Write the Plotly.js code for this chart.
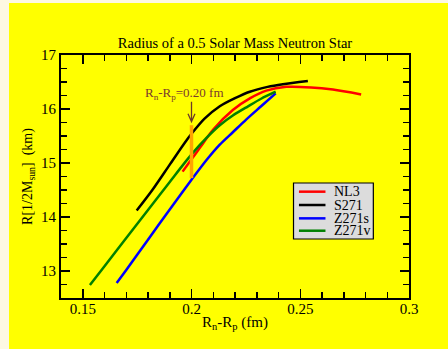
<!DOCTYPE html>
<html>
<head>
<meta charset="utf-8">
<script src="https://cdn.plot.ly/plotly-3.0.1.min.js"></script>
<style>
  html, body { margin: 0; padding: 0; background: #fdf8e2; width: 448px; height: 349px; overflow: hidden; }
  #chart { position: absolute; left: 9px; top: 3px; width: 439px; height: 346px; }
</style>
</head>
<body>
<div id="chart"></div>
<script>
// Series names and colours
const seriesNames = ['NL3', 'S271', 'Z271s', 'Z271v'];
const seriesColors = ['#ff0000', '#000000', '#0000ff', '#008000'];

// NL3
const nl3X = [0.1959, 0.200, 0.204, 0.210, 0.219, 0.227, 0.2344, 0.2436, 0.255, 0.265, 0.278];
const nl3Y = [14.84, 15.07, 15.29, 15.62, 15.98, 16.20, 16.34, 16.41, 16.40, 16.36, 16.27];
// S271
const s271X = [0.1748, 0.182, 0.190, 0.197, 0.200, 0.206, 0.213, 0.220, 0.2268, 0.235, 0.242, 0.2535];
const s271Y = [14.12, 14.50, 14.97, 15.38, 15.54, 15.82, 16.05, 16.20, 16.32, 16.41, 16.46, 16.52];
// Z271s
const z271sX = [0.1656, 0.170, 0.180, 0.190, 0.200, 0.207, 0.213, 0.219, 0.225, 0.232, 0.2387];
const z271sY = [12.78, 13.02, 13.58, 14.14, 14.69, 15.06, 15.34, 15.57, 15.80, 16.05, 16.29];
// Z271v
const z271vX = [0.1533, 0.160, 0.170, 0.180, 0.190, 0.200, 0.207, 0.213, 0.219, 0.226, 0.232, 0.2387];
const z271vY = [12.74, 13.09, 13.61, 14.13, 14.65, 15.16, 15.47, 15.70, 15.88, 16.05, 16.19, 16.32];

// Marker of Rn-Rp = 0.20 fm
const markX = 0.20;
const markYRange = [14.72, 15.70];
const markLabel = 'R<sub>n</sub>-R<sub>p</sub>=0.20 fm';

const xs = [nl3X, s271X, z271sX, z271vX];
const ys = [nl3Y, s271Y, z271sY, z271vY];

const serif = 'Liberation Serif, Times New Roman, serif';

const traces = seriesNames.map((n, i) => ({
  type: 'scatter', mode: 'lines', name: n,
  x: xs[i], y: ys[i],
  line: { color: seriesColors[i], width: 2.5, shape: 'spline', smoothing: 0.8 },
  showlegend: false, hoverinfo: 'skip'
}));

// custom legend (data coords of the box)
const legBox = { x0: 0.2469, x1: 0.2836, y0: 13.593, y1: 14.63 };
const legRows = [14.469, 14.222, 13.975, 13.746];
const shapes = [
  { type: 'line', xref: 'x', yref: 'y', x0: markX, x1: markX, y0: markYRange[0], y1: markYRange[1],
    line: { color: '#ffa500', width: 3.5 }, layer: 'above' },
  { type: 'path', xref: 'x', yref: 'y', xsizemode: 'pixel', ysizemode: 'pixel',
    xanchor: markX, yanchor: 15.765,
    path: 'M0,20 L0,0 M-3.5,8 L0,0 L3.5,8',
    line: { color: '#6b3a2a', width: 1.3 }, layer: 'above' },
  { type: 'rect', xref: 'x', yref: 'y', x0: legBox.x0, x1: legBox.x1, y0: legBox.y0, y1: legBox.y1,
    fillcolor: '#dcdcdc', line: { color: '#000000', width: 1.2 }, layer: 'above' }
];
const annotations = [
  { xref: 'x', yref: 'y', x: markX, y: 16.15, xshift: -7, yshift: -3, yanchor: 'bottom', xanchor: 'center',
    text: markLabel, showarrow: false, font: { family: serif, size: 13, color: '#7a3b2e' } }
];
seriesNames.forEach((n, i) => {
  shapes.push({ type: 'line', xref: 'x', yref: 'y', x0: 0.2494, x1: 0.2616, y0: legRows[i], y1: legRows[i],
    line: { color: seriesColors[i], width: 2.5 }, layer: 'above' });
  annotations.push({ xref: 'x', yref: 'y', x: 0.265, y: legRows[i], xanchor: 'left', yanchor: 'middle',
    text: n, showarrow: false, borderpad: 0, font: { family: serif, size: 14, color: '#000000' } });
});

const axisCommon = {
  showgrid: false, zeroline: false, showline: true, linecolor: '#000', linewidth: 2,
  mirror: 'allticks', ticks: 'inside', ticklen: 9, tickwidth: 1.5, tickcolor: '#000',
  tickfont: { family: serif, size: 15, color: '#000' }
};

const layout = {
  width: 439, height: 346,
  margin: { l: 52, r: 39, t: 52, b: 51 },
  paper_bgcolor: '#ffff00', plot_bgcolor: '#ffff00',
  showlegend: false,
  title: { text: 'Radius of a 0.5 Solar Mass Neutron Star', font: { family: serif, size: 14.5, color: '#000' },
    x: 0.5, xref: 'paper', y: 1 - 40 / 346, yref: 'container', yanchor: 'middle' },
  xaxis: Object.assign({}, axisCommon, {
    range: [0.14, 0.3], tick0: 0.15, dtick: 0.05, ticklabelstandoff: -4,
    minor: { dtick: 0.01, tick0: 0.14, ticks: 'inside', ticklen: 6, tickwidth: 1.5, tickcolor: '#000' },
    title: { text: 'R<sub>n</sub>-R<sub>p</sub> (fm)', font: { family: serif, size: 15, color: '#000' }, standoff: 0 }
  }),
  yaxis: Object.assign({}, axisCommon, {
    range: [12.5, 17], tick0: 13, dtick: 1,
    minor: { dtick: 0.25, ticks: 'inside', ticklen: 6, tickwidth: 1.5, tickcolor: '#000' },
    title: { text: 'R[1/2M<sub>sun</sub>]\u00a0\u00a0(km)', font: { family: serif, size: 14, color: '#000' }, standoff: 5 }
  }),
  shapes: shapes,
  annotations: annotations
};

Plotly.newPlot('chart', traces, layout, { displayModeBar: false, staticPlot: true });
</script>
</body>
</html>
